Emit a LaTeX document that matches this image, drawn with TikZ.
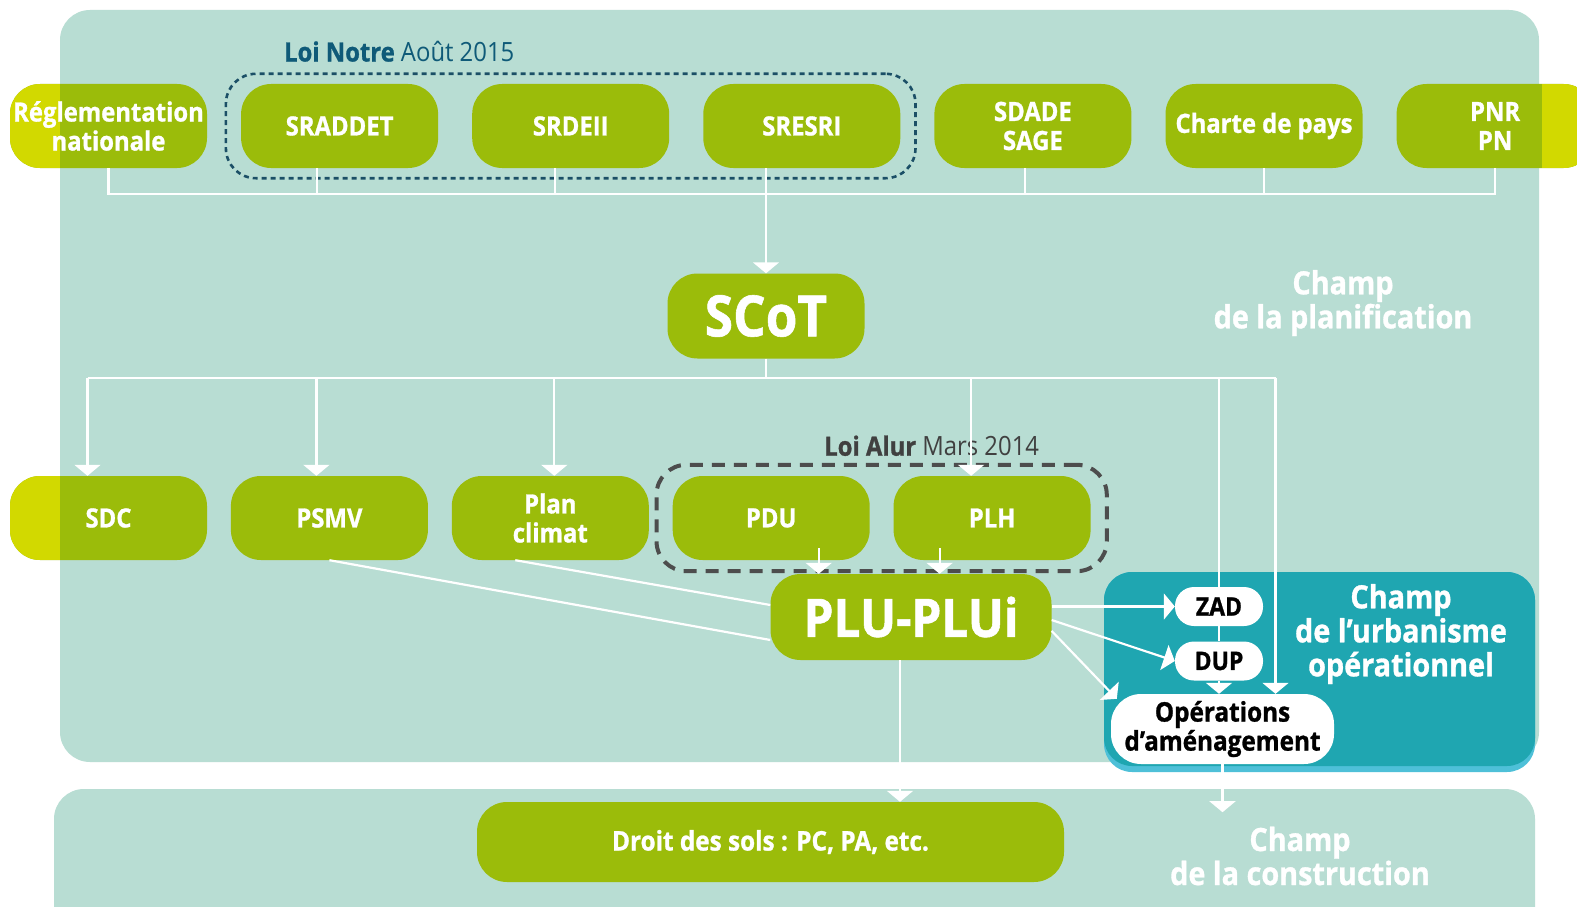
\documentclass[tikz,border=0pt]{standalone}
\usepackage{fontspec}
\setmainfont{Open Sans}[FakeStretch=0.9, BoldFeatures={FakeBold=1}]
\usepackage{xcolor}
\definecolor{panel}{HTML}{B8DDD3}
\definecolor{leaf}{HTML}{9BBC0A}
\definecolor{lime}{HTML}{D2D900}
\definecolor{lagoon}{HTML}{1FA6B1}
\definecolor{lagoon-edge}{HTML}{4EC0D8}
\definecolor{notre-text}{HTML}{0F5A78}
\definecolor{notre-line}{HTML}{1B4F66}
\definecolor{alur-text}{HTML}{404040}
\definecolor{alur-line}{HTML}{4D4D4D}
\usepackage{tikz}
\usetikzlibrary{positioning}
\usetikzlibrary{fit}
\usetikzlibrary{arrows.meta}
\tikzset{box/.style = {fill=leaf, rounded corners=30pt, align=center, text=white, inner sep=0pt, minimum width=197pt, minimum height=84pt, font=\bfseries\fontsize{26.5}{29}\selectfont}}
\tikzset{tag/.style = {fill=white, rounded corners=19pt, align=center, text=black, inner sep=0pt, minimum width=88pt, minimum height=39pt, font=\bfseries\fontsize{25.5}{28}\selectfont}}
\tikzset{champ/.style = {align=center, text=white, font=\bfseries\fontsize{32}{34}\selectfont}}
\tikzset{loi/.style = {rounded corners=30pt, inner xsep=15pt, inner ysep=10pt}}
\tikzset{overleft/.style = {path picture={\fill[lime, sharp corners] (path picture bounding box.south west) rectangle ([xshift=50pt]path picture bounding box.north west);}}}
\tikzset{overright/.style = {path picture={\fill[lime, sharp corners] (path picture bounding box.south east) rectangle ([xshift=-52pt]path picture bounding box.north east);}}}
\tikzset{wire/.style = {draw=white, line width=2.2pt}}
\tikzset{arr/.style = {wire, -{Triangle[width=26pt,length=11pt]}}}

\begin{document}
\begin{tikzpicture}[x=1pt, y=-1pt]

\path[use as bounding box, fill=white] (0,0) rectangle (1577,907);

% fields
\fill[panel, rounded corners=30pt] (60,10) rectangle (1539,762);
\fill[panel, rounded corners=30pt] (54,789) rectangle (1535,960);
\fill[lagoon-edge, rounded corners=28pt] (1104,572) rectangle (1535,772);
\fill[lagoon, rounded corners=28pt] (1104,572) rectangle (1535,766);

\node[champ] (cplan) at (1343,303) {Champ\\de la planification};
\node[champ] (cop) at (1401,634) {Champ\\de l’urbanisme\\opérationnel};
\node[champ] (cbuild) at (1300,856) {Champ\\de la construction};

% top row
\node[box, overleft] (reg) at (108.5,126) {Réglementation\\nationale};
\node[box, right=33.7pt of reg] (sraddet) {SRADDET};
\node[box, right=33.7pt of sraddet] (srdeii) {SRDEII};
\node[box, right=33.7pt of srdeii] (sresri) {SRESRI};
\node[box, right=33.7pt of sresri] (sdade) {SDADE\\SAGE};
\node[box, right=33.7pt of sdade] (charte) {Charte de pays};
\node[box, overright, right=33.7pt of charte] (pnr) {PNR\\PN};
\node[loi, fit=(sraddet)(sresri), draw=notre-line, line width=2.6pt, dash pattern=on 5pt off 4pt] (notre) {};
\node[anchor=west, text=notre-text, font=\fontsize{26.5}{29}\selectfont] (notrelbl) at ([xshift=56pt,yshift=21pt]notre.north west) {\textbf{Loi Notre} Août 2015};

\node[box, font=\bfseries\fontsize{57}{60}\selectfont, minimum height=85pt] (scot) at (766,316) {SCoT};

% second row
\node[box, overleft] (sdc) at (108.5,518) {SDC};
\node[box, right=23.5pt of sdc] (psmv) {PSMV};
\node[box, right=23.5pt of psmv] (plan) {Plan\\climat};
\node[box, right=23.5pt of plan] (pdu) {PDU};
\node[box, right=23.5pt of pdu] (plh) {PLH};
\node[loi, fit=(pdu)(plh), draw=alur-line, line width=4pt, dash pattern=on 13pt off 9pt, inner xsep=16pt, inner ysep=11pt] (alur) {};
\node[text=alur-text, font=\fontsize{26.5}{29}\selectfont] (alurlbl) at ([xshift=50pt,yshift=17pt]alur.north) {\textbf{Loi Alur} Mars 2014};

\node[box, minimum width=281pt, minimum height=86pt, font=\bfseries\fontsize{53}{56}\selectfont] (plu) at (911,617) {PLU-PLUi};

\node[tag] (zad) at (1219,606.5) {ZAD};
\node[tag] (dup) at (1219,661) {DUP};
\node[tag, rounded corners=30pt, minimum width=223pt, minimum height=70pt, font=\bfseries\fontsize{27}{29}\selectfont] (ops) at (1222.5,729) {Opérations\\d’aménagement};

\node[box, minimum width=587pt, minimum height=80pt, font=\bfseries\fontsize{27}{28}\selectfont] (droit) at (770.5,842) {Droit des sols : PC, PA, etc.};
\coordinate[below=48pt of ops.south] (build);

% top bus
\draw[wire] (reg.south) -- ++(0,26) -| (pnr.south);
\draw[wire] ([xshift=-23pt]sraddet.south) -- ++(0,26);
\draw[wire] ([xshift=-16pt]srdeii.south) -- ++(0,26);
\draw[wire] ([xshift=-8pt]sdade.south) -- ++(0,26);
\draw[wire] (charte.south) -- ++(0,26);
\draw[arr] (scot.north |- sresri.south) -- (scot.north);

% second bus
\draw[wire] (scot.south) -- ++(0,19) coordinate (fork);
\draw[wire] ([xshift=-21pt]sdc.north |- fork) -- ([xshift=53pt]ops.north |- fork);
\draw[arr] ([xshift=-21pt]sdc.north |- fork) -- ([xshift=-21pt]sdc.north);
\draw[arr] ([xshift=-13pt]psmv.north |- fork) -- ([xshift=-13pt]psmv.north);
\draw[arr] ([xshift=4pt]plan.north |- fork) -- ([xshift=4pt]plan.north);
\draw[arr] ([xshift=-21pt]plh.north |- fork) -- ([xshift=-21pt]plh.north);
\draw[wire] (zad.north |- fork) -- (zad.north);
\draw[wire] (zad.south) -- (dup.north);
\draw[arr] (dup.south) -- (dup.south |- ops.north);
\draw[arr] ([xshift=53pt]ops.north |- fork) -- ([xshift=53pt]ops.north);

% into PLU-PLUi
\draw[wire] (psmv.south) -- ([yshift=-23pt]plu.west);
\draw[wire] ([xshift=-35pt]plan.south) -- ([yshift=12pt]plu.west);
\draw[arr] ([xshift=47.5pt,yshift=12pt]pdu.south) -- ([xshift=47.5pt]pdu.south |- plu.north);
\draw[arr] ([xshift=-52.5pt,yshift=12pt]plh.south) -- ([xshift=-52.5pt]plh.south |- plu.north);

% out of PLU-PLUi
\draw[arr] (plu.east |- zad) -- (zad.west);
\draw[arr] ([yshift=-3pt]plu.east) -- (dup.west);
\draw[arr] ([yshift=-14pt]plu.east) -- ([xshift=6pt,yshift=-5pt]ops.north west);
\draw[arr] ([xshift=-11pt]plu.south) -- ([xshift=-11pt]plu.south |- droit.north);
\draw[arr] (ops.south) -- (build);

\end{tikzpicture}
\end{document}
